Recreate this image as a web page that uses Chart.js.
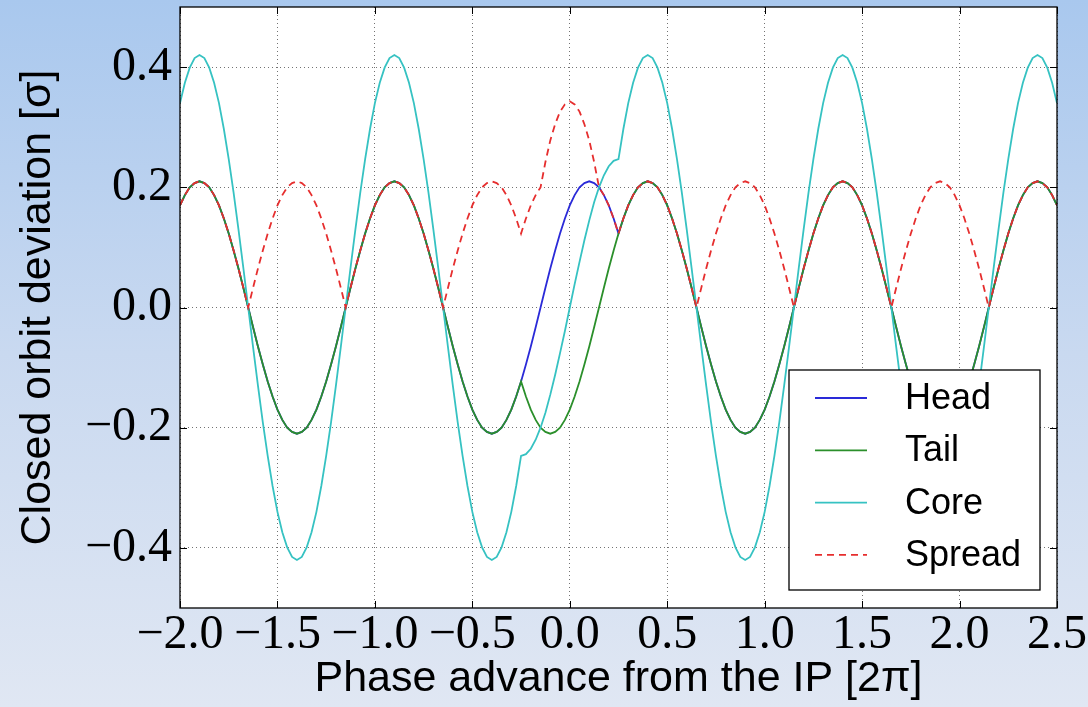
<!DOCTYPE html>
<html>
<head>
<meta charset="utf-8">
<title>Closed orbit deviation</title>
<script src="https://cdn.jsdelivr.net/npm/chart.js@4.4.1/dist/chart.umd.min.js"></script>
<style>
  html, body { margin: 0; padding: 0; overflow: hidden; }
  body { width: 1088px; height: 707px; background: linear-gradient(to bottom, #a9c8ee 0%, #c9d9f0 50%, #e0e7f3 100%); }
  canvas { display: block; }
</style>
</head>
<body>
<canvas id="orbitChart" width="1088" height="707"></canvas>
<script>
// phase advance from the IP, in units of 2*pi
const phase = [
  -2.000, -1.975, -1.950, -1.925, -1.900, -1.875, -1.850, -1.825, -1.800, -1.775,
  -1.750, -1.725, -1.700, -1.675, -1.650, -1.625, -1.600, -1.575, -1.550, -1.525,
  -1.500, -1.475, -1.450, -1.425, -1.400, -1.375, -1.350, -1.325, -1.300, -1.275,
  -1.250, -1.225, -1.200, -1.175, -1.150, -1.125, -1.100, -1.075, -1.050, -1.025,
  -1.000, -0.975, -0.950, -0.925, -0.900, -0.875, -0.850, -0.825, -0.800, -0.775,
  -0.750, -0.725, -0.700, -0.675, -0.650, -0.625, -0.600, -0.575, -0.550, -0.525,
  -0.500, -0.475, -0.450, -0.425, -0.400, -0.375, -0.350, -0.325, -0.300, -0.275,
  -0.250, -0.225, -0.200, -0.175, -0.150, -0.125, -0.100, -0.075, -0.050, -0.025,
   0.000,  0.025,  0.050,  0.075,  0.100,  0.125,  0.150,  0.175,  0.200,  0.225,
   0.250,  0.275,  0.300,  0.325,  0.350,  0.375,  0.400,  0.425,  0.450,  0.475,
   0.500,  0.525,  0.550,  0.575,  0.600,  0.625,  0.650,  0.675,  0.700,  0.725,
   0.750,  0.775,  0.800,  0.825,  0.850,  0.875,  0.900,  0.925,  0.950,  0.975,
   1.000,  1.025,  1.050,  1.075,  1.100,  1.125,  1.150,  1.175,  1.200,  1.225,
   1.250,  1.275,  1.300,  1.325,  1.350,  1.375,  1.400,  1.425,  1.450,  1.475,
   1.500,  1.525,  1.550,  1.575,  1.600,  1.625,  1.650,  1.675,  1.700,  1.725,
   1.750,  1.775,  1.800,  1.825,  1.850,  1.875,  1.900,  1.925,  1.950,  1.975,
   2.000,  2.025,  2.050,  2.075,  2.100,  2.125,  2.150,  2.175,  2.200,  2.225,
   2.250,  2.275,  2.300,  2.325,  2.350,  2.375,  2.400,  2.425,  2.450,  2.475,
   2.500
];

// closed orbit deviation [sigma]
const head = [
   0.170,  0.187,  0.200,  0.207,  0.210,  0.207,  0.200,  0.187,  0.170,  0.148,
   0.123,  0.095,  0.065,  0.033,  0.000, -0.033, -0.065, -0.095, -0.123, -0.148,
  -0.170, -0.187, -0.200, -0.207, -0.210, -0.207, -0.200, -0.187, -0.170, -0.148,
  -0.123, -0.095, -0.065, -0.033,  0.000,  0.033,  0.065,  0.095,  0.123,  0.148,
   0.170,  0.187,  0.200,  0.207,  0.210,  0.207,  0.200,  0.187,  0.170,  0.148,
   0.123,  0.095,  0.065,  0.033,  0.000, -0.033, -0.065, -0.095, -0.123, -0.148,
  -0.170, -0.187, -0.200, -0.207, -0.210, -0.207, -0.200, -0.187, -0.170, -0.148,
  -0.123, -0.095, -0.065, -0.033,  0.000,  0.033,  0.065,  0.095,  0.123,  0.148,
   0.170,  0.187,  0.200,  0.207,  0.210,  0.207,  0.200,  0.187,  0.170,  0.148,
   0.123,  0.148,  0.170,  0.187,  0.200,  0.207,  0.210,  0.207,  0.200,  0.187,
   0.170,  0.148,  0.123,  0.095,  0.065,  0.033,  0.000, -0.033, -0.065, -0.095,
  -0.123, -0.148, -0.170, -0.187, -0.200, -0.207, -0.210, -0.207, -0.200, -0.187,
  -0.170, -0.148, -0.123, -0.095, -0.065, -0.033,  0.000,  0.033,  0.065,  0.095,
   0.123,  0.148,  0.170,  0.187,  0.200,  0.207,  0.210,  0.207,  0.200,  0.187,
   0.170,  0.148,  0.123,  0.095,  0.065,  0.033,  0.000, -0.033, -0.065, -0.095,
  -0.123, -0.148, -0.170, -0.187, -0.200, -0.207, -0.210, -0.207, -0.200, -0.187,
  -0.170, -0.148, -0.123, -0.095, -0.065, -0.033,  0.000,  0.033,  0.065,  0.095,
   0.123,  0.148,  0.170,  0.187,  0.200,  0.207,  0.210,  0.207,  0.200,  0.187,
   0.170
];

const tail = [
   0.170,  0.187,  0.200,  0.207,  0.210,  0.207,  0.200,  0.187,  0.170,  0.148,
   0.123,  0.095,  0.065,  0.033,  0.000, -0.033, -0.065, -0.095, -0.123, -0.148,
  -0.170, -0.187, -0.200, -0.207, -0.210, -0.207, -0.200, -0.187, -0.170, -0.148,
  -0.123, -0.095, -0.065, -0.033,  0.000,  0.033,  0.065,  0.095,  0.123,  0.148,
   0.170,  0.187,  0.200,  0.207,  0.210,  0.207,  0.200,  0.187,  0.170,  0.148,
   0.123,  0.095,  0.065,  0.033,  0.000, -0.033, -0.065, -0.095, -0.123, -0.148,
  -0.170, -0.187, -0.200, -0.207, -0.210, -0.207, -0.200, -0.187, -0.170, -0.148,
  -0.123, -0.148, -0.170, -0.187, -0.200, -0.207, -0.210, -0.207, -0.200, -0.187,
  -0.170, -0.148, -0.123, -0.095, -0.065, -0.033,  0.000,  0.033,  0.065,  0.095,
   0.123,  0.148,  0.170,  0.187,  0.200,  0.207,  0.210,  0.207,  0.200,  0.187,
   0.170,  0.148,  0.123,  0.095,  0.065,  0.033,  0.000, -0.033, -0.065, -0.095,
  -0.123, -0.148, -0.170, -0.187, -0.200, -0.207, -0.210, -0.207, -0.200, -0.187,
  -0.170, -0.148, -0.123, -0.095, -0.065, -0.033,  0.000,  0.033,  0.065,  0.095,
   0.123,  0.148,  0.170,  0.187,  0.200,  0.207,  0.210,  0.207,  0.200,  0.187,
   0.170,  0.148,  0.123,  0.095,  0.065,  0.033,  0.000, -0.033, -0.065, -0.095,
  -0.123, -0.148, -0.170, -0.187, -0.200, -0.207, -0.210, -0.207, -0.200, -0.187,
  -0.170, -0.148, -0.123, -0.095, -0.065, -0.033,  0.000,  0.033,  0.065,  0.095,
   0.123,  0.148,  0.170,  0.187,  0.200,  0.207,  0.210,  0.207,  0.200,  0.187,
   0.170
];

const core = [
   0.340,  0.374,  0.399,  0.415,  0.420,  0.415,  0.399,  0.374,  0.340,  0.297,
   0.247,  0.191,  0.130,  0.066,  0.000, -0.066, -0.130, -0.191, -0.247, -0.297,
  -0.340, -0.374, -0.399, -0.415, -0.420, -0.415, -0.399, -0.374, -0.340, -0.297,
  -0.247, -0.191, -0.130, -0.066,  0.000,  0.066,  0.130,  0.191,  0.247,  0.297,
   0.340,  0.374,  0.399,  0.415,  0.420,  0.415,  0.399,  0.374,  0.340,  0.297,
   0.247,  0.191,  0.130,  0.066,  0.000, -0.066, -0.130, -0.191, -0.247, -0.297,
  -0.340, -0.374, -0.399, -0.415, -0.420, -0.415, -0.399, -0.374, -0.340, -0.297,
  -0.247, -0.244, -0.235, -0.220, -0.200, -0.175, -0.145, -0.112, -0.076, -0.039,
   0.000,  0.039,  0.076,  0.112,  0.145,  0.175,  0.200,  0.220,  0.235,  0.244,
   0.247,  0.297,  0.340,  0.374,  0.399,  0.415,  0.420,  0.415,  0.399,  0.374,
   0.340,  0.297,  0.247,  0.191,  0.130,  0.066,  0.000, -0.066, -0.130, -0.191,
  -0.247, -0.297, -0.340, -0.374, -0.399, -0.415, -0.420, -0.415, -0.399, -0.374,
  -0.340, -0.297, -0.247, -0.191, -0.130, -0.066,  0.000,  0.066,  0.130,  0.191,
   0.247,  0.297,  0.340,  0.374,  0.399,  0.415,  0.420,  0.415,  0.399,  0.374,
   0.340,  0.297,  0.247,  0.191,  0.130,  0.066,  0.000, -0.066, -0.130, -0.191,
  -0.247, -0.297, -0.340, -0.374, -0.399, -0.415, -0.420, -0.415, -0.399, -0.374,
  -0.340, -0.297, -0.247, -0.191, -0.130, -0.066,  0.000,  0.066,  0.130,  0.191,
   0.247,  0.297,  0.340,  0.374,  0.399,  0.415,  0.420,  0.415,  0.399,  0.374,
   0.340
];

const spread = [
   0.170,  0.187,  0.200,  0.207,  0.210,  0.207,  0.200,  0.187,  0.170,  0.148,
   0.123,  0.095,  0.065,  0.033,  0.000,  0.033,  0.065,  0.095,  0.123,  0.148,
   0.170,  0.187,  0.200,  0.207,  0.210,  0.207,  0.200,  0.187,  0.170,  0.148,
   0.123,  0.095,  0.065,  0.033,  0.000,  0.033,  0.065,  0.095,  0.123,  0.148,
   0.170,  0.187,  0.200,  0.207,  0.210,  0.207,  0.200,  0.187,  0.170,  0.148,
   0.123,  0.095,  0.065,  0.033,  0.000,  0.033,  0.065,  0.095,  0.123,  0.148,
   0.170,  0.187,  0.200,  0.207,  0.210,  0.207,  0.200,  0.187,  0.170,  0.148,
   0.123,  0.148,  0.170,  0.187,  0.200,  0.242,  0.278,  0.305,  0.326,  0.338,
   0.343,  0.338,  0.326,  0.305,  0.278,  0.242,  0.200,  0.187,  0.170,  0.148,
   0.123,  0.148,  0.170,  0.187,  0.200,  0.207,  0.210,  0.207,  0.200,  0.187,
   0.170,  0.148,  0.123,  0.095,  0.065,  0.033,  0.000,  0.033,  0.065,  0.095,
   0.123,  0.148,  0.170,  0.187,  0.200,  0.207,  0.210,  0.207,  0.200,  0.187,
   0.170,  0.148,  0.123,  0.095,  0.065,  0.033,  0.000,  0.033,  0.065,  0.095,
   0.123,  0.148,  0.170,  0.187,  0.200,  0.207,  0.210,  0.207,  0.200,  0.187,
   0.170,  0.148,  0.123,  0.095,  0.065,  0.033,  0.000,  0.033,  0.065,  0.095,
   0.123,  0.148,  0.170,  0.187,  0.200,  0.207,  0.210,  0.207,  0.200,  0.187,
   0.170,  0.148,  0.123,  0.095,  0.065,  0.033,  0.000,  0.033,  0.065,  0.095,
   0.123,  0.148,  0.170,  0.187,  0.200,  0.207,  0.210,  0.207,  0.200,  0.187,
   0.170
];

const seriesNames = ['Head', 'Tail', 'Core', 'Spread'];

const xTickValues = [-2.0, -1.5, -1.0, -0.5, 0.0, 0.5, 1.0, 1.5, 2.0, 2.5];
const xTickLabels = ['\u22122.0', '\u22121.5', '\u22121.0', '\u22120.5', '0.0', '0.5', '1.0', '1.5', '2.0', '2.5'];
const yTickValues = [-0.4, -0.2, 0.0, 0.2, 0.4];
const yTickLabels = ['\u22120.4', '\u22120.2', '0.0', '0.2', '0.4'];

const SANS = '"Liberation Sans", Arial, sans-serif';
const SERIF = '"Liberation Serif", "Times New Roman", serif';

function toPoints(values) {
  return phase.map((x, i) => ({ x: x, y: values[i] }));
}

// белый фон области построения
const plotBackground = {
  id: 'plotBackground',
  beforeDraw(chart) {
    const { ctx, chartArea: a } = chart;
    ctx.save();
    ctx.fillStyle = '#ffffff';
    ctx.fillRect(a.left, a.top, a.right - a.left, a.bottom - a.top);
    ctx.restore();
  }
};

// рамка, внутренние засечки и легенда в правом нижнем углу
const frameAndLegend = {
  id: 'frameAndLegend',
  afterDraw(chart) {
    const { ctx, chartArea: a, scales } = chart;
    ctx.save();

    ctx.strokeStyle = '#000000';
    ctx.lineWidth = 1;
    ctx.beginPath();
    xTickValues.forEach(v => {
      const px = Math.round(scales.x.getPixelForValue(v)) + 0.5;
      ctx.moveTo(px, a.top); ctx.lineTo(px, a.top + 7);
      ctx.moveTo(px, a.bottom); ctx.lineTo(px, a.bottom - 7);
    });
    yTickValues.forEach(v => {
      const py = Math.round(scales.y.getPixelForValue(v)) + 0.5;
      ctx.moveTo(a.left, py); ctx.lineTo(a.left + 7, py);
      ctx.moveTo(a.right, py); ctx.lineTo(a.right - 7, py);
    });
    ctx.stroke();

    ctx.lineWidth = 1.3;
    ctx.strokeRect(a.left, a.top, a.right - a.left, a.bottom - a.top);

    // легенда
    const w = 251, h = 220;
    const left = a.right - 17 - w;
    const top = a.bottom - 18 - h;
    ctx.fillStyle = '#ffffff';
    ctx.fillRect(left, top, w, h);
    ctx.lineWidth = 1.3;
    ctx.strokeStyle = '#000000';
    ctx.strokeRect(left, top, w, h);

    ctx.font = '36px ' + SANS;
    ctx.textBaseline = 'middle';
    ctx.textAlign = 'left';
    chart.data.datasets.forEach((ds, i) => {
      const y = top + 28 + i * 52.3;
      ctx.strokeStyle = ds.borderColor;
      ctx.lineWidth = ds.borderWidth;
      ctx.setLineDash(ds.borderDash || []);
      ctx.beginPath();
      ctx.moveTo(left + 26, y);
      ctx.lineTo(left + 78, y);
      ctx.stroke();
      ctx.setLineDash([]);
      ctx.fillStyle = '#000000';
      ctx.fillText(ds.label, left + 116, y + 1);
    });
    ctx.restore();
  }
};

const ctx = document.getElementById('orbitChart').getContext('2d');
const orbitChart = new Chart(ctx, {
  type: 'line',
  data: {
    datasets: [
      {
        label: seriesNames[0],
        data: toPoints(head),
        borderColor: '#2a2ad8',
        borderWidth: 1.8,
        order: 4
      },
      {
        label: seriesNames[1],
        data: toPoints(tail),
        borderColor: '#2b8f2b',
        borderWidth: 1.8,
        order: 3
      },
      {
        label: seriesNames[2],
        data: toPoints(core),
        borderColor: '#36c2c2',
        borderWidth: 1.8,
        order: 2
      },
      {
        label: seriesNames[3],
        data: toPoints(spread),
        borderColor: '#e62e2e',
        borderWidth: 1.8,
        borderDash: [7, 5],
        order: 1
      }
    ]
  },
  options: {
    responsive: false,
    animation: false,
    devicePixelRatio: 1,
    layout: { padding: { top: 7, right: 31, bottom: 0, left: 0 } },
    elements: {
      point: { radius: 0, hoverRadius: 0 },
      line: { tension: 0, fill: false }
    },
    plugins: {
      legend: { display: false },
      tooltip: { enabled: false }
    },
    scales: {
      x: {
        type: 'linear',
        min: -2.0,
        max: 2.5,
        afterBuildTicks: (scale) => { scale.ticks = xTickValues.map(v => ({ value: v })); },
        afterFit: (scale) => { scale.height = 99; scale.paddingLeft = 0; scale.paddingRight = 0; },
        ticks: {
          autoSkip: false,
          maxRotation: 0,
          minRotation: 0,
          padding: 1,
          color: '#000000',
          font: { family: SERIF, size: 48, lineHeight: 1.1 },
          callback: (value, index) => xTickLabels[index]
        },
        grid: {
          drawTicks: false,
          color: 'rgba(0,0,0,0.55)',
          lineWidth: 1
        },
        border: { display: false, dash: [1, 3] },
        title: {
          display: true,
          text: 'Phase advance from the IP [2\u03c0]',
          color: '#000000',
          font: { family: SANS, size: 43, lineHeight: 1.2 },
          padding: { top: 0, bottom: 2 }
        }
      },
      y: {
        type: 'linear',
        min: -0.5,
        max: 0.5,
        afterBuildTicks: (scale) => { scale.ticks = yTickValues.map(v => ({ value: v })); },
        afterFit: (scale) => { scale.width = 180; scale.paddingTop = 0; scale.paddingBottom = 0; },
        ticks: {
          padding: 8,
          color: '#000000',
          font: { family: SERIF, size: 48, lineHeight: 1.1 },
          callback: (value, index) => yTickLabels[index]
        },
        grid: {
          drawTicks: false,
          color: 'rgba(0,0,0,0.55)',
          lineWidth: 1
        },
        border: { display: false, dash: [1, 3] },
        title: {
          display: true,
          text: 'Closed orbit deviation [\u03c3]',
          color: '#000000',
          font: { family: SANS, size: 43, lineHeight: 1.2 },
          padding: { top: 12, bottom: 0 }
        }
      }
    }
  },
  plugins: [plotBackground, frameAndLegend]
});
</script>
</body>
</html>
